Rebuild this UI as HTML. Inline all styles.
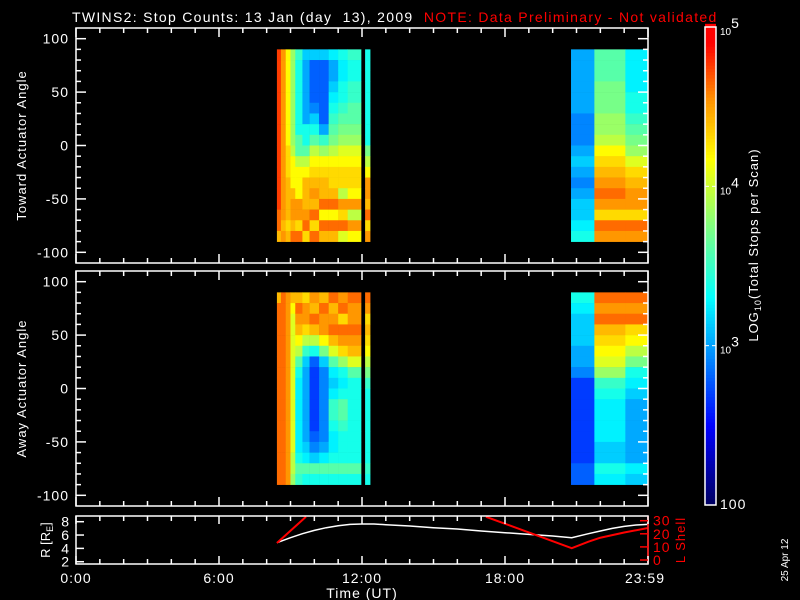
<!DOCTYPE html>
<html><head><meta charset="utf-8"><style>
html,body{margin:0;padding:0;background:#000;}
svg{display:block;font-family:"Liberation Sans",sans-serif;}
</style></head><body>
<svg id="chart" width="800" height="600" xmlns="http://www.w3.org/2000/svg">
<rect width="800" height="600" fill="#000"/>
<text x="72" y="22" fill="#fff" font-size="14" letter-spacing="1.3" xml:space="preserve">TWINS2: Stop Counts: 13 Jan (day  13), 2009 <tspan fill="#f00"> NOTE: Data Preliminary - Not validated</tspan></text>
<g id="g"></g>
</svg>
<script>
// ---- data ----
const timeEdges = [8.43,8.6,8.8,9.0,9.2,9.5,9.8,10.2,10.6,11.0,11.4,11.96];
const timeEdges2 = [12.13,12.34];
const timeEdges3 = [20.77,21.75,23.05,24.0];
const angleBins = [90,80,70,60,50,40,30,20,10,0,-10,-20,-30,-40,-50,-60,-70,-80]; // top edge of 10-deg bins
const towardVals = [
[4.7,4.7,4.7,4.7,4.7,4.7,4.7,4.7,4.7,4.7,4.7,4.7,4.7,4.7,4.7,4.6,4.6,4.4],
[4.5,4.5,4.5,4.5,4.5,4.5,4.5,4.5,4.5,4.5,4.5,4.5,4.5,4.5,4.5,4.5,4.4,4.5],
[4.2,4.2,4.2,4.2,4.2,4.2,4.2,4.2,4.2,4.3,4.3,4.3,4.4,4.4,4.4,4.4,4.3,4.4],
[3.9,3.9,3.9,3.9,3.9,3.9,3.9,3.9,3.9,4.0,4.2,4.2,4.2,4.4,4.5,4.5,4.4,4.6],
[3.6,3.5,3.5,3.5,3.5,3.5,3.5,3.5,3.7,3.7,4.0,4.2,4.2,4.2,4.5,4.5,4.3,4.6],
[3.3,3.2,3.2,3.2,3.2,3.2,3.2,3.5,3.5,3.7,4.0,4.2,4.4,4.4,4.4,4.5,4.6,4.3],
[3.3,3.0,3.0,3.0,3.0,3.1,3.3,3.5,3.7,4.0,4.2,4.3,4.4,4.5,4.4,4.6,4.3,4.6],
[3.3,3.0,3.0,3.0,3.0,3.0,3.0,3.2,3.6,3.9,4.2,4.3,4.4,4.4,4.6,4.2,4.6,4.4],
[3.4,3.2,3.2,3.3,3.4,3.5,3.6,3.7,3.8,4.0,4.2,4.3,4.3,4.4,4.6,4.2,4.6,4.4],
[3.5,3.4,3.4,3.5,3.5,3.6,3.7,3.8,3.9,4.1,4.2,4.3,4.3,4.0,4.5,4.3,4.6,4.1],
[3.6,3.5,3.5,3.6,3.6,3.7,3.7,3.8,3.9,4.1,4.2,4.3,4.3,4.2,4.5,4.0,4.5,4.2]
];
const towardVals2 = [[3.5,3.5,3.5,3.5,3.5,3.5,3.5,3.5,3.5,3.8,4.0,4.2,4.5,4.5,4.4,4.6,4.3,4.5]];
const towardVals3 = [
[3.2,3.2,3.2,3.2,3.2,3.2,3.1,3.1,3.1,3.2,3.3,3.2,3.1,3.2,3.3,3.3,3.4,3.5],
[3.7,3.7,3.7,3.8,3.8,3.8,3.9,3.9,4.0,4.2,4.3,4.4,4.5,4.6,4.5,4.3,4.6,4.5],
[3.4,3.4,3.4,3.4,3.5,3.5,3.6,3.7,3.8,3.9,4.1,4.3,4.4,4.5,4.5,4.3,4.6,4.5]
];
const awayVals = [
[4.4,4.6,4.6,4.6,4.6,4.6,4.6,4.6,4.6,4.6,4.6,4.6,4.6,4.6,4.6,4.6,4.6,4.6],
[4.6,4.6,4.6,4.6,4.6,4.6,4.6,4.6,4.6,4.6,4.6,4.6,4.6,4.6,4.6,4.6,4.6,4.6],
[4.5,4.5,4.5,4.5,4.5,4.5,4.5,4.5,4.5,4.5,4.5,4.5,4.5,4.5,4.5,4.5,4.5,4.5],
[4.4,4.2,4.1,4.1,4.1,4.1,4.1,4.1,4.1,4.1,4.1,4.1,4.1,4.1,4.1,4.0,4.0,3.9],
[4.4,4.6,4.5,4.4,4.2,4.0,3.7,3.5,3.4,3.4,3.4,3.4,3.4,3.4,3.4,3.5,3.7,3.6],
[4.3,4.5,4.5,4.3,4.0,3.6,3.3,3.2,3.2,3.2,3.2,3.2,3.2,3.2,3.3,3.4,3.7,3.5],
[4.5,4.4,4.6,4.4,4.0,3.5,3.0,2.9,2.9,2.9,2.9,2.9,2.9,3.0,3.1,3.3,3.7,3.5],
[4.4,4.6,4.5,4.5,4.2,3.8,3.3,3.1,3.1,3.1,3.1,3.1,3.1,3.1,3.2,3.4,3.7,3.5],
[4.6,4.4,4.5,4.6,4.4,4.1,3.7,3.4,3.3,3.4,3.6,3.6,3.5,3.4,3.4,3.5,3.7,3.5],
[4.5,4.6,4.3,4.6,4.5,4.3,3.9,3.5,3.4,3.5,3.7,3.7,3.6,3.5,3.5,3.5,3.7,3.5],
[4.6,4.5,4.5,4.6,4.5,4.4,4.1,3.7,3.5,3.5,3.5,3.5,3.5,3.5,3.5,3.5,3.7,3.5]
];
const awayVals2 = [[4.6,4.5,4.3,4.4,4.3,4.2,4.0,3.8,3.6,3.5,3.5,3.5,3.5,3.5,3.5,3.5,3.6,3.5]];
const awayVals3 = [
[3.5,3.4,3.3,3.3,3.3,3.2,3.2,3.1,2.9,2.9,2.9,2.9,2.9,2.9,2.9,2.9,3.0,3.0],
[4.6,4.5,4.6,4.4,4.3,4.2,4.1,3.9,3.6,3.5,3.4,3.4,3.4,3.4,3.3,3.3,3.5,3.4],
[4.6,4.5,4.6,4.3,4.2,4.0,3.8,3.5,3.4,3.3,3.2,3.2,3.2,3.2,3.2,3.2,3.4,3.3]
];
const rHours = [8.43,9,9.5,10,10.5,11,11.5,12,12.5,13,14,15,16,17,18,19,20,20.8,21.5,22,22.5,23,23.5,24];
const rVals  = [4.85,5.6,6.2,6.7,7.1,7.4,7.6,7.65,7.65,7.55,7.35,7.1,6.9,6.6,6.35,6.1,5.85,5.6,6.2,6.6,7.0,7.3,7.5,7.6];
const lHoursA = [8.43,9.65];
const lValsA  = [13,33];
const lHoursB = [17.2,20.8,21.5,22,23,24];
const lValsB  = [33,9,14,17,21,24.4];
const angleTicks = [100,50,0,-50,-100];
const timeTickLabels = ["0:00","6:00","12:00","18:00","23:59"];
const timeTickHours = [0,6,12,18,24];

// ---- layout ----
const NS="http://www.w3.org/2000/svg";
const g=document.getElementById('g');
const X0=76,X1=648;
const xs=h=>X0+(h/24)*(X1-X0);
function mk(tag,attrs,parent){const e=document.createElementNS(NS,tag);for(const k in attrs)e.setAttribute(k,attrs[k]);(parent||g).appendChild(e);return e;}
const stops=[[2.0,[0,0,96]],[2.5,[0,0,255]],[3.0,[0,160,255]],[3.3,[0,255,255]],[3.75,[128,255,128]],[4.17,[255,255,0]],[4.55,[255,144,0]],[4.9,[255,0,0]],[5.0,[255,0,0]]];
function color(v){v=Math.max(2,Math.min(5,v));for(let i=0;i<stops.length-1;i++){const a=stops[i],b=stops[i+1];if(v<=b[0]){const t=(v-a[0])/(b[0]-a[0]);const c=a[1].map((x,j)=>Math.round(x+(b[1][j]-x)*t));return `rgb(${c})`;}}return 'rgb(255,0,0)';}
// calibration of my visual readings onto the colour scale
const cal=v=>v*1.15-0.65;

const panels=[{name:'toward',top:28,bot:263,label:'Toward Actuator Angle',sets:[[timeEdges,towardVals],[timeEdges2,towardVals2],[timeEdges3,towardVals3]]},
{name:'away',top:271,bot:506,label:'Away Actuator Angle',sets:[[timeEdges,awayVals],[timeEdges2,awayVals2],[timeEdges3,awayVals3]]}];
panels.forEach(p=>{
  const ys=a=>p.top+(110-a)/220*(p.bot-p.top);
  const hg=mk('g',{});
  
  
  p.sets.forEach(([edges,vals])=>{
    vals.forEach((col,ci)=>{
      col.forEach((v,ri)=>{
        const a=angleBins[ri];
        const r=mk('rect',{x:xs(edges[ci]),y:ys(a),width:xs(edges[ci+1])-xs(edges[ci])+0.3,height:ys(a-10)-ys(a)+0.3,fill:color(cal(v))},hg);
        
        
      });
    });
  });
  const fr=mk('rect',{x:X0,y:p.top,width:X1-X0,height:p.bot-p.top,fill:'none',stroke:'#fff','stroke-width':1.5});
  
  
  for(let h=0;h<=24;h++){const L=h%6==0?9:5;const x=xs(h);
    mk('line',{x1:x,x2:x,y1:p.bot,y2:p.bot-L,stroke:'#fff','stroke-width':1.5});
    mk('line',{x1:x,x2:x,y1:p.top,y2:p.top+L,stroke:'#fff','stroke-width':1.5});}
  for(let a=-110;a<=110;a+=10){if(a==-110||a==110)continue;const L=a%50==0?10:5;const y=ys(a);
    mk('line',{x1:X0,x2:X0+L,y1:y,y2:y,stroke:'#fff','stroke-width':1.5});
    mk('line',{x1:X1,x2:X1-L,y1:y,y2:y,stroke:'#fff','stroke-width':1.5});}
  angleTicks.forEach(a=>{const t=mk('text',{x:69,y:ys(a)+5,fill:'#fff','font-size':14,'text-anchor':'end','letter-spacing':1});t.textContent=a;
    });
  const cy=(p.top+p.bot)/2;
  const yl=mk('text',{x:26,y:cy,fill:'#fff','font-size':13,'text-anchor':'middle','letter-spacing':1,transform:`rotate(-90 26 ${cy})`});
  yl.textContent=p.label;
  
  
});

// ---- orbit panel ----
const PT=516,PB=564;
const ry=r=>521.7+(8-r)*6.67;
const ly=l=>560-l*1.31;
mk('defs',{}).innerHTML='<clipPath id="cp"><rect x="76" y="516" width="572" height="48"/></clipPath>';
const rp=mk('polyline',{points:rHours.map((h,i)=>xs(h)+','+ry(rVals[i])).join(' '),fill:'none',stroke:'#fff','stroke-width':1.5,'clip-path':'url(#cp)'});


[[lHoursA,lValsA],[lHoursB,lValsB]].forEach(([hs,vs])=>{
  const lp=mk('polyline',{points:hs.map((h,i)=>xs(h)+','+ly(vs[i])).join(' '),fill:'none',stroke:'#f00','stroke-width':2,'clip-path':'url(#cp)'});
  
  
});
mk('rect',{x:X0,y:PT,width:X1-X0,height:PB-PT,fill:'none',stroke:'#fff','stroke-width':1.5});
mk('line',{x1:X1,x2:X1,y1:PT,y2:PB,stroke:'#f00','stroke-width':1.5});
for(let h=0;h<=24;h++){const L=h%6==0?8:5;const x=xs(h);
  mk('line',{x1:x,x2:x,y1:PB,y2:PB-L,stroke:'#fff','stroke-width':1.5});
  mk('line',{x1:x,x2:x,y1:PT,y2:PT+L,stroke:'#fff','stroke-width':1.5});}
[2,4,6,8].forEach(r=>{mk('line',{x1:X0,x2:X0+8,y1:ry(r),y2:ry(r),stroke:'#fff','stroke-width':1.5});
  const t=mk('text',{x:69,y:ry(r)+5,fill:'#fff','font-size':14,'text-anchor':'end'});t.textContent=r;
  });
[0,10,20,30].forEach(l=>{mk('line',{x1:X1,x2:X1-8,y1:ly(l),y2:ly(l),stroke:'#f00','stroke-width':1.5});
  const t=mk('text',{x:653,y:ly(l)+5,fill:'#f00','font-size':14,'letter-spacing':1});t.textContent=l;
  });
const rl=mk('text',{x:50,y:540,fill:'#fff','font-size':13,'text-anchor':'middle',transform:'rotate(-90 50 540)'});
rl.innerHTML='R [R<tspan font-size="9" dy="3">E</tspan><tspan dy="-3">]</tspan>';

const ll=mk('text',{x:685,y:540,fill:'#f00','font-size':13,'text-anchor':'middle','letter-spacing':1,transform:'rotate(-90 685 540)'});
ll.textContent='L Shell';

timeTickHours.forEach((h,i)=>{const t=mk('text',{x:xs(h)+(h==24?-3:0),y:583,fill:'#fff','font-size':14,'text-anchor':'middle','letter-spacing':1});t.textContent=timeTickLabels[i];
  });
const xt=mk('text',{x:362,y:598,fill:'#fff','font-size':14,'text-anchor':'middle','letter-spacing':1});xt.textContent='Time (UT)';


// ---- colorbar ----
const CB0=27,CB1=505;
const cyv=v=>CB1-(v-2)/3*(CB1-CB0);
const cb=mk('g',{});

for(let v=2;v<5;v+=0.02){mk('rect',{x:705,y:cyv(v+0.02),width:11,height:cyv(v)-cyv(v+0.02)+0.5,fill:color(v+0.01)},cb);}
mk('rect',{x:705,y:CB0,width:11,height:CB1-CB0,fill:'none',stroke:'#fff','stroke-width':1.5},cb);
[3,4].forEach(v=>{mk('line',{x1:705,x2:709,y1:cyv(v),y2:cyv(v),stroke:'#fff'},cb);mk('line',{x1:712,x2:716,y1:cyv(v),y2:cyv(v),stroke:'#fff'},cb);});
[[5,'5'],[4,'4'],[3,'3']].forEach(([v,e])=>{const t=mk('text',{x:720,y:cyv(v)+8,fill:'#fff','font-size':10},cb);t.innerHTML='10<tspan font-size="14" dy="-7">'+e+'</tspan>';
  });
const c100=mk('text',{x:720,y:CB1+4,fill:'#fff','font-size':14,'letter-spacing':1},cb);c100.textContent='100';

const ct=mk('text',{x:758,y:245,fill:'#fff','font-size':13,'text-anchor':'middle','letter-spacing':1,transform:'rotate(-90 758 245)'},cb);
ct.innerHTML='LOG<tspan font-size="9" dy="3">10</tspan><tspan dy="-3">(Total Stops per Scan)</tspan>';

const dt=mk('text',{x:788,y:560,fill:'#fff','font-size':10,'text-anchor':'middle',transform:'rotate(-90 788 560)'});
dt.textContent='25 Apr 12';

</script>
</body></html>
